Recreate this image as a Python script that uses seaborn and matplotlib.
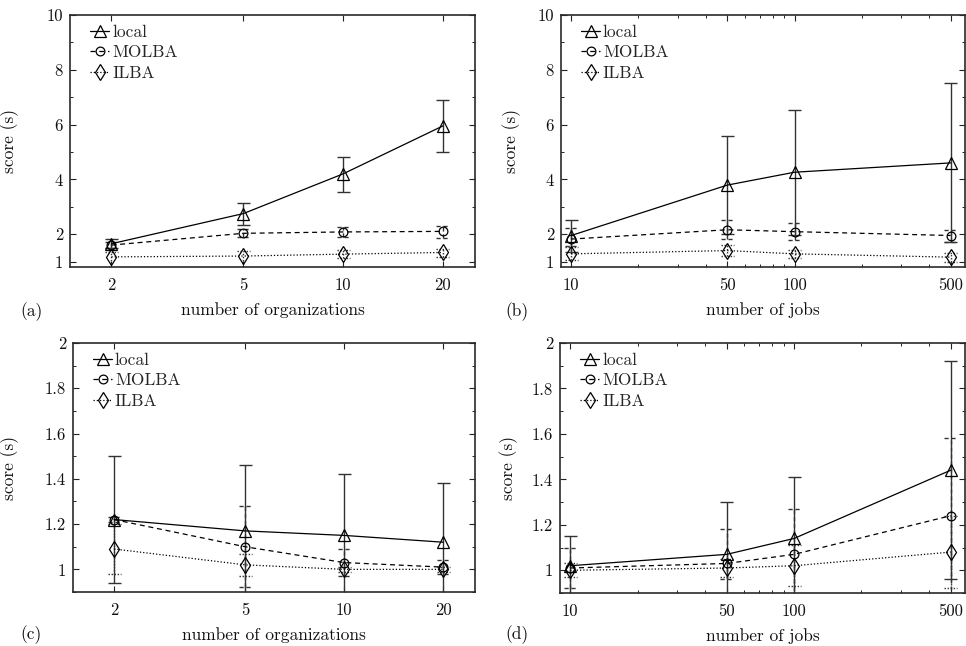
import numpy as np
import pandas as pd
import matplotlib
matplotlib.use("Agg")
import matplotlib.pyplot as plt
from matplotlib.ticker import FixedLocator, FixedFormatter, NullLocator, MultipleLocator
import seaborn as sns

# ---------------- data ----------------
series_names = ["local", "MOLBA", "ILBA"]

orgs = [2, 5, 10, 20]
jobs = [10, 50, 100, 500]

# panel (a): score vs number of organizations
a_local = [1.65, 2.75, 4.20, 5.95]
a_local_lo = [1.50, 2.35, 3.52, 4.99]
a_local_hi = [1.82, 3.12, 4.83, 6.91]
a_molba = [1.60, 2.03, 2.08, 2.10]
a_molba_lo = [1.50, 1.88, 1.88, 1.86]
a_molba_hi = [1.70, 2.17, 2.25, 2.30]
a_ilba = [1.17, 1.20, 1.27, 1.33]
a_ilba_lo = [0.70, 0.70, 1.12, 1.17]
a_ilba_hi = [1.33, 1.38, 1.42, 1.47]

# panel (b): score vs number of jobs
b_local = [1.95, 3.79, 4.26, 4.60]
b_local_lo = [1.34, 2.02, 1.97, 1.71]
b_local_hi = [2.50, 5.57, 6.55, 7.50]
b_molba = [1.82, 2.16, 2.09, 1.95]
b_molba_lo = [1.55, 1.82, 1.79, 1.73]
b_molba_hi = [2.22, 2.52, 2.40, 2.16]
b_ilba = [1.28, 1.40, 1.28, 1.16]
b_ilba_lo = [1.06, 1.21, 1.12, 1.00]
b_ilba_hi = [1.53, 1.61, 1.43, 1.31]

# panel (c): score vs number of organizations
c_local = [1.22, 1.17, 1.15, 1.12]
c_local_lo = [0.94, 0.85, 0.85, 0.85]
c_local_hi = [1.50, 1.46, 1.42, 1.38]
c_molba = [1.22, 1.10, 1.03, 1.01]
c_molba_lo = [1.21, 0.92, 0.97, 0.98]
c_molba_hi = [1.23, 1.28, 1.09, 1.04]
c_ilba = [1.09, 1.02, 1.00, 1.00]
c_ilba_lo = [0.98, 0.97, 0.99, 0.99]
c_ilba_hi = [1.20, 1.07, 1.01, 1.01]

# panel (d): score vs number of jobs
d_local = [1.02, 1.07, 1.14, 1.44]
d_local_lo = [0.85, 0.85, 0.85, 0.96]
d_local_hi = [1.15, 1.30, 1.41, 1.92]
d_molba = [1.01, 1.03, 1.07, 1.24]
d_molba_lo = [0.92, 0.96, 0.85, 0.85]
d_molba_hi = [1.10, 1.18, 1.27, 1.58]
d_ilba = [1.00, 1.01, 1.02, 1.08]
d_ilba_lo = [0.97, 0.97, 0.93, 0.92]
d_ilba_hi = [1.03, 1.05, 1.11, 1.24]

org_ticks = [2, 5, 10, 20]
job_ticks = [10, 50, 100, 500]
job_minor = [20, 30, 40, 60, 70, 80, 90, 200, 300, 400]
big_yticks = [1, 2, 4, 6, 8, 10]
small_yticks = [1, 1.2, 1.4, 1.6, 1.8, 2]

# ---------------- style ----------------
sns.set_style("ticks")
plt.rcParams["font.family"] = ["cmr10", "DejaVu Serif"]
plt.rcParams["axes.formatter.use_mathtext"] = True
plt.rcParams["axes.unicode_minus"] = False

styles = {
    "local": dict(marker="^", ms=8.0, ls="-", cap_ls="-"),
    "MOLBA": dict(marker="o", ms=6.3, ls=(0, (4, 3)), cap_ls=(0, (3, 2))),
    "ILBA": dict(marker="d", ms=8.5, ls=(0, (1, 1.6)), cap_ls=(0, (1, 1.2))),
}

fig = plt.figure(figsize=(9.66, 6.46), dpi=100)
W, H = 966, 646

def ax_rect(l, t, r, b):
    return [l / W, 1 - b / H, (r - l) / W, (b - t) / H]

axes_px = {
    "a": (70, 15, 475, 267),
    "b": (561, 15, 965, 267),
    "c": (73, 343, 475, 592),
    "d": (560, 343, 965, 593),
}

panels = {
    "a": dict(x=orgs, xlim=(1.5, 25), ylim=(0.8, 10), xlabel="number of organizations",
              data=[(a_local, a_local_lo, a_local_hi), (a_molba, a_molba_lo, a_molba_hi), (a_ilba, a_ilba_lo, a_ilba_hi)]),
    "b": dict(x=jobs, xlim=(9, 580), ylim=(0.8, 10), xlabel="number of jobs",
              data=[(b_local, b_local_lo, b_local_hi), (b_molba, b_molba_lo, b_molba_hi), (b_ilba, b_ilba_lo, b_ilba_hi)]),
    "c": dict(x=orgs, xlim=(1.5, 25), ylim=(0.9, 2), xlabel="number of organizations",
              data=[(c_local, c_local_lo, c_local_hi), (c_molba, c_molba_lo, c_molba_hi), (c_ilba, c_ilba_lo, c_ilba_hi)]),
    "d": dict(x=jobs, xlim=(9, 580), ylim=(0.9, 2), xlabel="number of jobs",
              data=[(d_local, d_local_lo, d_local_hi), (d_molba, d_molba_lo, d_molba_hi), (d_ilba, d_ilba_lo, d_ilba_hi)]),
}

ylabel_x = {"a": -0.126, "b": -0.099, "c": -0.134, "d": -0.103}
letter_pos = {"a": (20, 312), "b": (505, 312), "c": (20, 635), "d": (505, 635)}

line_col = "black"
err_col = "#333333"
cap_half_px = 6.5

for key, p in panels.items():
    l, t, r, b = axes_px[key]
    ax = fig.add_axes(ax_rect(l, t, r, b))
    ax.set_xscale("log")
    ax.set_xlim(*p["xlim"])
    ax.set_ylim(*p["ylim"])
    x = np.array(p["x"], dtype=float)
    ratio = (p["xlim"][1] / p["xlim"][0]) ** (cap_half_px / (r - l))

    for name, (vals, lo, hi) in zip(series_names, p["data"]):
        st = styles[name]
        vals = np.array(vals); lo = np.array(lo); hi = np.array(hi)
        eb = ax.errorbar(x, vals, yerr=[vals - lo, hi - vals], fmt="none",
                         ecolor=err_col, elinewidth=1.0, capsize=0, zorder=2)
        for coll in eb[2]:
            coll.set_linestyle(st["cap_ls"])
        ax.hlines(np.concatenate([lo, hi]), np.concatenate([x / ratio, x / ratio]),
                  np.concatenate([x * ratio, x * ratio]), colors=err_col,
                  linewidth=1.0, linestyles=st["cap_ls"], zorder=2)
        df = pd.DataFrame({"x": x, "y": vals})
        sns.lineplot(data=df, x="x", y="y", ax=ax, color=line_col, linewidth=0.9,
                     linestyle=st["ls"], marker=st["marker"], markersize=st["ms"],
                     markerfacecolor="none", markeredgecolor=line_col,
                     markeredgewidth=0.9, label=name, zorder=3, legend=False)

    xt = org_ticks if key in ("a", "c") else job_ticks
    ax.xaxis.set_major_locator(FixedLocator(xt))
    ax.xaxis.set_major_formatter(FixedFormatter([str(v) for v in xt]))
    if key in ("a", "c"):
        ax.xaxis.set_minor_locator(NullLocator())
    else:
        ax.xaxis.set_minor_locator(FixedLocator(job_minor))
    if key in ("a", "b"):
        ax.yaxis.set_major_locator(FixedLocator(big_yticks))
        ax.yaxis.set_major_formatter(FixedFormatter([str(v) for v in big_yticks]))
        ax.yaxis.set_minor_locator(MultipleLocator(1))
    else:
        ax.yaxis.set_major_locator(FixedLocator(small_yticks))
        ax.yaxis.set_major_formatter(FixedFormatter(["%g" % v for v in small_yticks]))
        ax.yaxis.set_minor_locator(MultipleLocator(0.1))

    ax.tick_params(which="both", direction="in", top=True, right=True, colors="#222222",
                   labelcolor="#111111", labelsize=12)
    ax.tick_params(which="major", length=4.5, width=0.8)
    ax.tick_params(which="minor", length=2.5, width=0.7)
    ax.tick_params(axis="x", pad=8)
    ax.tick_params(axis="y", pad=5)
    for s in ax.spines.values():
        s.set_linewidth(1.2)
        s.set_color("#2a2a2a")

    ax.set_xlabel(p["xlabel"], fontsize=12.5, color="#111111")
    ax.set_ylabel("score (s)", fontsize=12.5, color="#111111")
    ax.yaxis.set_label_coords(ylabel_x[key], 0.5)
    ax.xaxis.set_label_coords(0.5, -0.14)

    ax.legend(loc="upper left", bbox_to_anchor=(0.033, 0.99), borderaxespad=0,
              frameon=False, fontsize=12.5, handlelength=1.1, handletextpad=0.15,
              labelspacing=0.3)

    lx, ly = letter_pos[key]
    fig.text(lx / W, 1 - ly / H, "(%s)" % key, fontsize=12.5, ha="left", va="center",
             color="#111111")

fig.savefig("out.png", dpi=100)
